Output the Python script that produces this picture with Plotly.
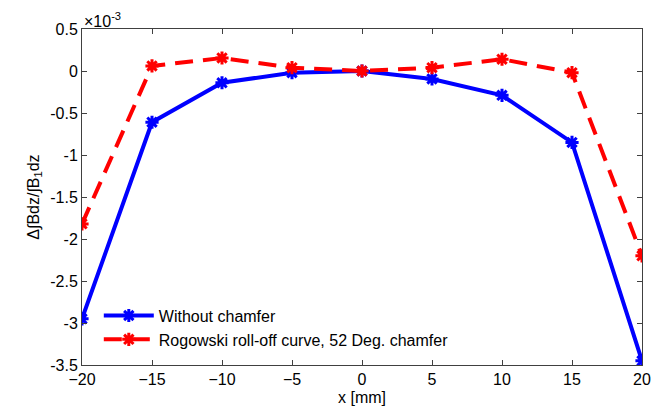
import plotly.graph_objects as go

x_mm = [-20, -15, -10, -5, 0, 5, 10, 15, 20]
without_chamfer = [-2.95, -0.61, -0.14, -0.02, 0.0, -0.095, -0.29, -0.85, -3.45]
rogowski_52deg = [-1.82, 0.06, 0.155, 0.04, 0.0, 0.04, 0.14, -0.02, -2.2]
x_ticks = [-20, -15, -10, -5, 0, 5, 10, 15, 20]
y_ticks = [-3.5, -3, -2.5, -2, -1.5, -1, -0.5, 0, 0.5]
y_tick_text = ["-3.5", "-3", "-2.5", "-2", "-1.5", "-1", "-0.5", "0", "0.5"]

font_family = "Liberation Sans, Arial, sans-serif"

fig = go.Figure()
fig.add_trace(go.Scatter(
    x=x_mm, y=without_chamfer, mode="lines+markers", name="Without chamfer",
    line=dict(color="#0000ff", width=4),
    marker=dict(symbol="asterisk", size=11, color="#0000ff",
                line=dict(color="#0000ff", width=3)),
))
fig.add_trace(go.Scatter(
    x=x_mm, y=rogowski_52deg, mode="lines+markers",
    name="Rogowski roll-off curve, 52 Deg. chamfer",
    line=dict(color="#ff0000", width=4, dash="18px,10px"),
    marker=dict(symbol="asterisk", size=11, color="#ff0000",
                line=dict(color="#ff0000", width=3)),
))

axis_common = dict(
    showline=True, linecolor="#404040", linewidth=1, mirror="allticks",
    ticks="inside", ticklen=5, tickcolor="#404040",
    showgrid=False, zeroline=False,
    tickfont=dict(family=font_family, size=16, color="#000000"),
)

fig.update_layout(
    width=662, height=418,
    margin=dict(l=82, r=20, t=29, b=53),
    paper_bgcolor="white", plot_bgcolor="white",
    font=dict(family=font_family, size=16, color="#000000"),
    xaxis=dict(range=[-20, 20], tickvals=x_ticks,
               title=dict(text="x [mm]", font=dict(size=16), standoff=4),
               **axis_common),
    yaxis=dict(range=[-3.5, 0.5], tickvals=y_ticks, ticktext=y_tick_text,
               title=dict(text="Δ∫Bdz/∫B<sub>1</sub>dz", font=dict(size=16), standoff=6),
               **axis_common),
    legend=dict(x=0.03, y=0.025, xanchor="left", yanchor="bottom",
                bgcolor="rgba(255,255,255,0)", borderwidth=0, itemwidth=50,
                font=dict(family=font_family, size=16), tracegroupgap=0),
    showlegend=True,
)

fig.add_annotation(
    text="×10<sup>-3</sup>", xref="paper", yref="paper", x=0.0, y=1.0,
    xanchor="left", yanchor="bottom", showarrow=False,
    font=dict(family=font_family, size=16, color="#000000"), yshift=-3,
)

fig.write_html("out.html")
